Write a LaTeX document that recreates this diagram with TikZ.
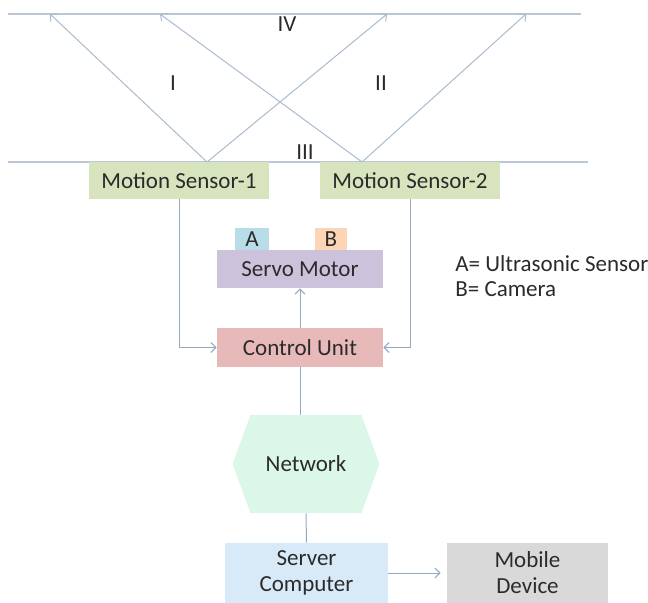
\documentclass[tikz,border=0pt]{standalone}
\usepackage{fontspec}
\setmainfont{Carlito}
\usetikzlibrary{arrows.meta,positioning}

\definecolor{rayblue}{HTML}{A9BBD0}
\definecolor{edgeblue}{HTML}{BCC7D6}
\definecolor{linkblue}{HTML}{93A9C2}
\definecolor{textgrey}{HTML}{2B2B2B}
\definecolor{sensorgreen}{HTML}{D8E4BE}
\definecolor{ablue}{HTML}{B8DCE8}
\definecolor{borange}{HTML}{FBD5B6}
\definecolor{servolilac}{HTML}{CDC2DB}
\definecolor{controlpink}{HTML}{E7BAB9}
\definecolor{netmint}{HTML}{DAF7E8}
\definecolor{serverblue}{HTML}{D8EAF8}
\definecolor{mobilegrey}{HTML}{D9D9D9}

\def\fontsz{\fontsize{11.5}{13}\selectfont}
\tikzstyle{block}=[rectangle, draw=none, text=textgrey, font=\fontsz, inner sep=0pt, align=center]
\tikzstyle{sensor}=[block, fill=sensorgreen, minimum width=90pt, minimum height=18.5pt]
\tikzstyle{unit}=[block, minimum width=83pt, minimum height=19pt]
\tikzstyle{tag}=[block, minimum height=11pt]
\tikzstyle{endbox}=[block, minimum height=30pt]
\tikzstyle{ray}=[draw=rayblue, line width=0.5pt]
\tikzstyle{edge}=[draw=edgeblue, line width=1pt]
\tikzstyle{link}=[draw=linkblue, line width=0.5pt]
\tikzstyle{zone}=[text=textgrey, font=\fontsz, inner sep=0pt]

\begin{document}
\begin{tikzpicture}[x=0.5pt, y=-0.5pt, >={Straight Barb[length=2.5pt,width=5pt]}] % open arrow style
  \useasboundingbox (0,0) rectangle (648,602);

  % field lines
  \coordinate (top-l) at (8,14);
  \coordinate (top-r) at (581,14);
  \coordinate (bot-l) at (8,162);
  \coordinate (bot-r) at (588,162);
  \draw [edge] (top-l) -- (top-r);
  \draw [edge] (bot-l) -- (bot-r);

  % sensor beams
  \coordinate (apex-1) at (207,162);
  \coordinate (apex-2) at (362,162);
  \foreach \x [count=\i] in {50,160,387,526}
    \coordinate (hit-\i) at (\x,14);
  \foreach \a/\h in {1/1, 1/3, 2/2, 2/4}
    \draw [ray, ->] (apex-\a) -- (hit-\h);

  % zone labels
  \foreach \z/\x/\y in {I/173/83, II/381/83, III/305/152, IV/287/24}
    \node [zone] (zone-\z) at (\x,\y) {\z};

  % motion sensors
  \node [sensor] (sensor-1) at (179,180.5) {Motion Sensor-1};
  \node [sensor] (sensor-2) at (410,180.5) {Motion Sensor-2};

  % servo with mounted parts
  \node [tag, fill=ablue, minimum width=17pt] (part-a) at (252,239) {A};
  \node [tag, fill=borange, minimum width=16pt] (part-b) at (331,239) {B};
  \node [unit, fill=servolilac] (servo) at (300,269) {Servo Motor};
  \node [unit, fill=controlpink, minimum height=19.5pt] (control) at (300,347.5) {Control Unit};

  % legend
  \node [zone, anchor=west] (legend-a) at (455,264) {A= Ultrasonic Sensor};
  \node [zone, anchor=west] (legend-b) at (455,289) {B= Camera};

  % network hexagon
  \node [block, minimum width=73.5pt, minimum height=49pt,
    path picture={\fill [netmint] (path picture bounding box.west)
      -- ([xshift=9pt]path picture bounding box.north west)
      -- ([xshift=-9pt]path picture bounding box.north east)
      -- (path picture bounding box.east)
      -- ([xshift=-9pt]path picture bounding box.south east)
      -- ([xshift=9pt]path picture bounding box.south west) -- cycle;}]
    (network) at (306,464) {Network};

  % end devices
  \node [endbox, fill=serverblue, minimum width=81.5pt] (server) at (306.5,573) {Server\\Computer};
  \node [endbox, fill=mobilegrey, minimum width=80.5pt] (mobile) at (527.5,573) {Mobile\\Device};

  % connections
  \draw [link, ->] (sensor-1.south) |- (control.west);
  \draw [link, ->] (sensor-2.south) |- (control.east);
  \draw [link, ->] (control.north) -- (servo.south);
  \draw [link] (control.south) -- (control.south |- network.north);
  \draw [link] (network.south) -- (server.north);
  \draw [link, ->] (server.east) -- ([xshift=-3pt]mobile.west);
\end{tikzpicture}
\end{document}
